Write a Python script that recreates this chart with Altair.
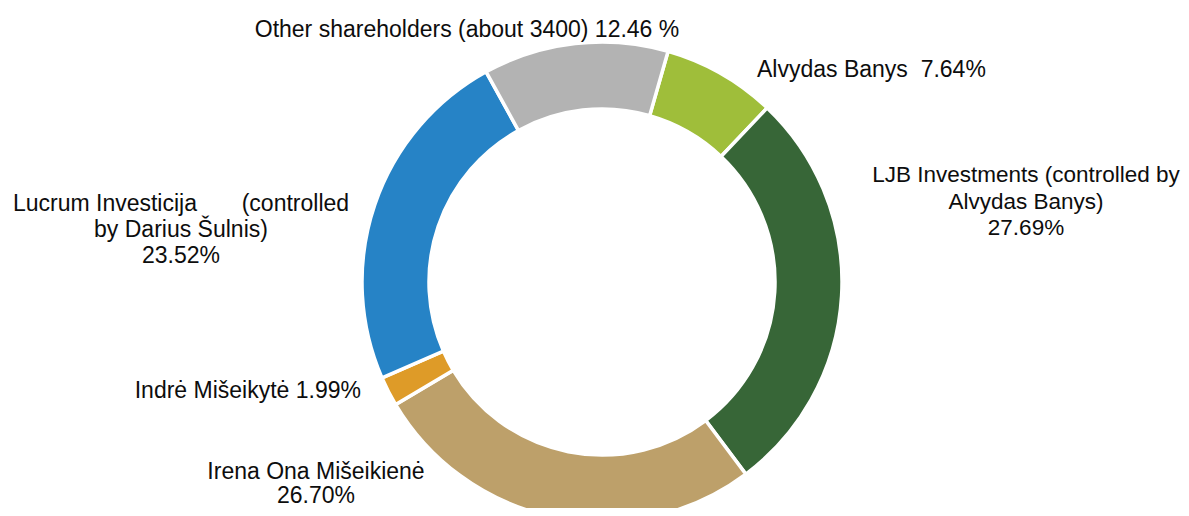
import altair as alt
import pandas as pd

# ---- data ----
names = ["Alvydas Banys", "LJB Investments", "Irena Ona Mišeikienė",
         "Indrė Mišeikytė", "Lucrum Investicija", "Other shareholders"]
values = [7.64, 27.69, 26.70, 1.99, 23.52, 12.46]
colors = ["#9FBE3A", "#376637", "#BDA06A", "#DE9B28", "#2683C6", "#B3B3B3"]

label_lines = [
    ["Alvydas Banys\u00a0\u00a07.64%"],
    ["LJB Investments (controlled by", "Alvydas Banys)", "27.69%"],
    ["Irena Ona Mišeikienė", "26.70%"],
    ["Indrė Mišeikytė 1.99%"],
    ["Lucrum Investicija" + "\u00a0" * 7 + "(controlled", "by Darius Šulnis)", "23.52%"],
    ["Other shareholders (about 3400) 12.46 %"],
]

df = pd.DataFrame({"name": names, "value": values, "order": list(range(len(names)))})

# ---- layout ----
W, H = 1173, 500
CX, CY = 594, 274
R_OUT, R_IN = 240, 173
START = 0.279
TWO_PI = 6.283185307

# label anchors: (x, y baseline of first line, align, lineHeight, font size)
label_pos = [
    (749, 68.7, "left", 26.5, 23),
    (1018, 174, "center", 26.5, 22.5),
    (308, 471, "center", 24, 23),
    (353, 390, "right", 26.5, 23),
    (173, 203, "center", 26, 23),
    (459, 29, "center", 26.5, 23),
]

FONT = "Liberation Sans"

arc = alt.Chart(df).mark_arc(
    innerRadius=R_IN, outerRadius=R_OUT, stroke="white", strokeWidth=3.5
).encode(
    theta=alt.Theta("value:Q", stack=True,
                    scale=alt.Scale(range=[START, START + TWO_PI])),
    order=alt.Order("order:Q"),
    color=alt.Color("name:N", scale=alt.Scale(domain=names, range=colors), legend=None),
    x=alt.value(CX),
    y=alt.value(CY),
)

layers = [arc]
for lines, (x, y, align, lh, fs) in zip(label_lines, label_pos):
    txt = alt.Chart(pd.DataFrame({"a": [0]})).mark_text(
        font=FONT, fontSize=fs, color="#0d0d0d", align=align,
        baseline="alphabetic", lineHeight=lh
    ).encode(
        x=alt.value(x), y=alt.value(y),
        text=alt.value(lines if len(lines) > 1 else lines[0]),
    )
    layers.append(txt)

chart = alt.layer(*layers).properties(
    width=W, height=H,
    autosize=alt.AutoSizeParams(type="none"),
    padding=0,
).configure_view(stroke=None)

chart.save("out.html", embed_options={"renderer": "svg", "actions": False})
